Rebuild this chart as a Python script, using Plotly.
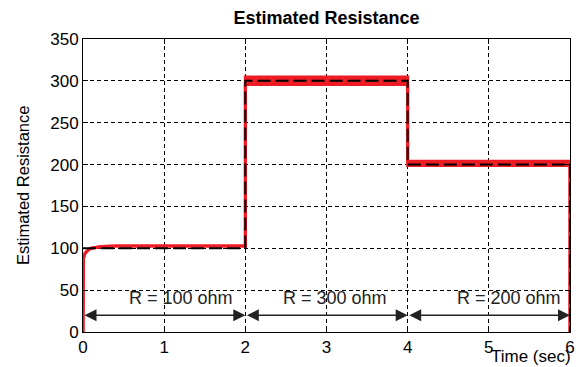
import plotly.graph_objects as go

# Estimated resistance (upper / lower edge of the estimate band) and reference
t_est = [0, 0, 0.005, 0.025, 0.065, 0.1, 0.15, 0.23, 0.4, 2, 2, 4, 4, 6, 6]
est_hi = [0, 80, 88, 94, 98, 100, 101, 102, 102.8, 102.8, 304.5, 304.5, 204, 204, 0]
est_lo = [0, 80, 88, 94, 98, 100, 101, 102, 102.8, 102.8, 295.5, 295.5, 199, 199, 0]

t_ref = [0, 2, 2, 4, 4, 6, 6]
r_ref = [100, 100, 300, 300, 200, 200, 0]

# Interval annotations
seg_start = [0, 2, 4]
seg_end = [2, 4, 6]
seg_label = ["R = 100 ohm", "R = 300 ohm", "R = 200 ohm"]
label_x = [1.21, 3.1, 5.25]
arrow_y = 20
label_y = 41

x_ticks = [0, 1, 2, 3, 4, 5, 6]
y_ticks = [0, 50, 100, 150, 200, 250, 300, 350]

RED = "#ee1c25"
FONT = "Liberation Sans, Arial, sans-serif"

fig = go.Figure()
fig.add_trace(go.Scatter(x=t_est, y=est_lo, mode="lines",
                         line=dict(color=RED, width=3), hoverinfo="skip"))
fig.add_trace(go.Scatter(x=t_est, y=est_hi, mode="lines", fill="tonexty",
                         fillcolor=RED, line=dict(color=RED, width=3), hoverinfo="skip"))
fig.add_trace(go.Scatter(x=t_ref, y=r_ref, mode="lines",
                         line=dict(color="black", width=2, dash="13px,5px"), hoverinfo="skip"))

annotations = []
for a, b in zip(seg_start, seg_end):
    annotations.append(dict(x=b, y=arrow_y, ax=a, ay=arrow_y, xref="x", yref="y",
                            axref="x", ayref="y", showarrow=True, text="",
                            arrowside="end+start", arrowhead=2, arrowsize=1.6,
                            arrowwidth=1.5, arrowcolor="#222"))
for lx, txt in zip(label_x, seg_label):
    annotations.append(dict(x=lx, y=label_y, xref="x", yref="y", text=txt,
                            showarrow=False, xanchor="center", yanchor="middle",
                            font=dict(size=18, color="#222", family=FONT)))
annotations.append(dict(x=-0.124, y=0.5, xref="paper", yref="paper", text="Estimated Resistance",
                        textangle=-90, showarrow=False, xanchor="center", yanchor="middle",
                        font=dict(size=16.5, color="black", family=FONT)))
annotations.append(dict(x=0.92, y=-0.082, xref="paper", yref="paper", text="Time (sec)",
                        showarrow=False, xanchor="center", yanchor="middle",
                        font=dict(size=17, color="black", family=FONT)))

axis_common = dict(showline=True, linecolor="black", linewidth=1, mirror="ticks",
                   ticks="inside", ticklen=5, tickcolor="black",
                   showgrid=True, gridcolor="black", gridwidth=1, griddash="4px,3px",
                   zeroline=False, tickfont=dict(size=17, color="black", family=FONT))

fig.update_layout(
    width=585, height=367,
    margin=dict(l=83, r=10, t=39, b=35),
    paper_bgcolor="white", plot_bgcolor="white",
    showlegend=False,
    title=dict(text="<b>Estimated Resistance</b>", x=0.5, xref="paper",
               y=1 - 18 / 367, yref="container", yanchor="middle",
               font=dict(size=18, color="black", family=FONT)),
    xaxis=dict(range=[0, 6], tickvals=x_ticks, **axis_common),
    yaxis=dict(range=[0, 350], tickvals=y_ticks, **axis_common),
    annotations=annotations,
)

fig.write_html("out.html")
